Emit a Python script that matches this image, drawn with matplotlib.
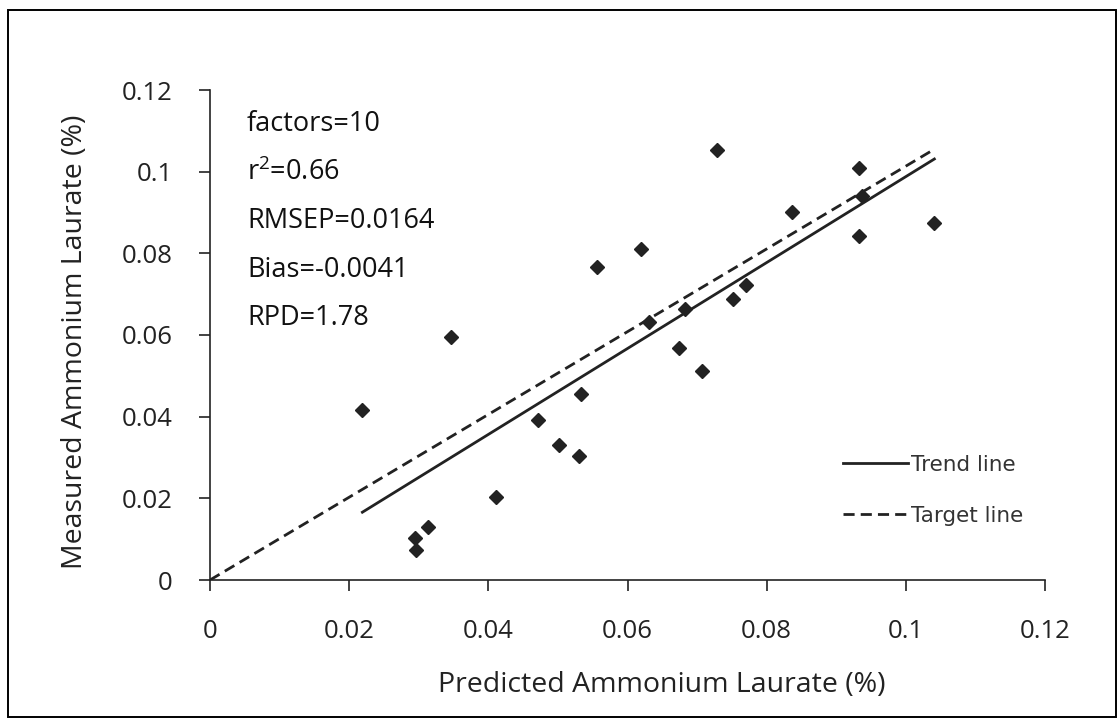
import matplotlib
matplotlib.use("Agg")
import matplotlib.pyplot as plt
from matplotlib.lines import Line2D
from matplotlib.patches import Rectangle

# ---- data ----
predicted = [0.0219, 0.0347, 0.0295, 0.0296, 0.0314, 0.0411, 0.0471, 0.0502,
             0.0530, 0.0533, 0.0556, 0.0620, 0.0631, 0.0683, 0.0674, 0.0707,
             0.0729, 0.0752, 0.0771, 0.0837, 0.0933, 0.0937, 0.0932, 0.1041]
measured = [0.0417, 0.0595, 0.0102, 0.0074, 0.0131, 0.0204, 0.0391, 0.0331,
            0.0303, 0.0456, 0.0767, 0.0810, 0.0632, 0.0663, 0.0569, 0.0513,
            0.1054, 0.0687, 0.0722, 0.0901, 0.1009, 0.0941, 0.0842, 0.0874]
trend_x = [0.0219, 0.1041]
trend_y = [0.0166, 0.1031]
target_x = [0.0, 0.1036]
target_y = [0.0, 0.1050]
ticks = [0, 0.02, 0.04, 0.06, 0.08, 0.1, 0.12]
tick_labels = ["0", "0.02", "0.04", "0.06", "0.08", "0.1", "0.12"]
stats = ["factors=10", "r$^{2}$=0.66", "RMSEP=0.0164", "Bias=-0.0041", "RPD=1.78"]

W, H = 1119, 722
fig = plt.figure(figsize=(W / 100, H / 100), dpi=100)
font = "Open Sans"
plt.rcParams["mathtext.fontset"] = "custom"
plt.rcParams["mathtext.rm"] = font

# outer frame
fig.patches.append(Rectangle((8 / W, 1 - 717 / H), (1116 - 8) / W, (717 - 10) / H,
                             transform=fig.transFigure, fill=False,
                             edgecolor="black", linewidth=1.4))

ax = fig.add_axes([210 / W, (H - 580) / H, (1045 - 210) / W, (580 - 90) / H])
ax.set_xlim(0, 0.12)
ax.set_ylim(0, 0.12)

ax.plot(target_x, target_y, color="#222222", linestyle=(0, (4, 2.2)), linewidth=2.0,
        label="Target line", zorder=2)
ax.plot(trend_x, trend_y, color="#222222", linestyle="-", linewidth=2.0,
        label="Trend line", zorder=2)
ax.plot(predicted, measured, linestyle="none", marker="D", markersize=7.5,
        color="#222222", zorder=3)

for s in ["top", "right"]:
    ax.spines[s].set_visible(False)
for s in ["left", "bottom"]:
    ax.spines[s].set_linewidth(1.2)
    ax.spines[s].set_color("#222222")

ax.set_xticks(ticks)
ax.set_xticklabels(tick_labels, fontfamily=font, fontsize=18.5)
ax.set_yticks(ticks)
ax.set_yticklabels(tick_labels, fontfamily=font, fontsize=18.5)
ax.tick_params(axis="both", direction="out", length=8, width=1.2, color="#222222",
               labelcolor="#222222")
ax.tick_params(axis="x", pad=20)
ax.tick_params(axis="y", pad=19)

ax.set_xlabel("Predicted Ammonium Laurate (%)", fontfamily=font, fontsize=20.5,
              color="#222222", va="center")
ax.set_ylabel("Measured Ammonium Laurate (%)", fontfamily=font, fontsize=20.5,
              color="#222222", va="center")
ax.xaxis.set_label_coords(0.541, -0.214)
ax.yaxis.set_label_coords(-0.1617, 0.487)

for i, s in enumerate(stats):
    ax.text(247 / W, 1 - (124 + 48.5 * i) / H, s, transform=fig.transFigure,
            fontfamily=font, fontsize=19.5, color="#111111", va="center", ha="left")

handles = [Line2D([], [], color="#222222", linestyle="-", linewidth=2.0),
           Line2D([], [], color="#222222", linestyle=(0, (4, 2.2)), linewidth=2.0)]
leg = ax.legend(handles, ["Trend line", "Target line"], loc="upper left",
                bbox_to_anchor=(843 / W, 1 - 455 / H), bbox_transform=fig.transFigure,
                frameon=False, handlelength=3.0, handletextpad=0.15, labelspacing=1.42,
                borderaxespad=0, borderpad=0,
                prop={"family": "DejaVu Sans", "size": 15.5})
for t in leg.get_texts():
    t.set_color("#333333")

fig.savefig("out.png", dpi=100)
